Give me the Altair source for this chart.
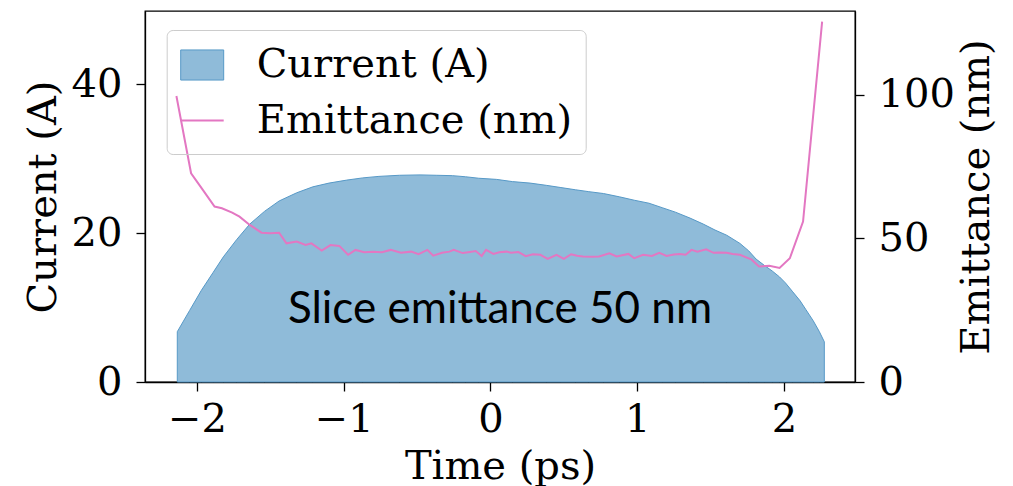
import altair as alt
import pandas as pd

# ---- data ----
series_names = ["Current (A)", "Emittance (nm)"]

time_current = [-2.134, -2.05, -1.97, -1.89, -1.82, -1.73, -1.64, -1.54, -1.44, -1.32,
                -1.21, -1.10, -0.98, -0.87, -0.76, -0.62, -0.48, -0.37, -0.26, -0.17,
                -0.08, 0.04, 0.15, 0.27, 0.38, 0.48, 0.58, 0.67, 0.77, 0.88,
                0.98, 1.08, 1.17, 1.26, 1.36, 1.45, 1.53, 1.61, 1.70, 1.76,
                1.81, 1.87, 1.92, 1.97, 2.01, 2.06, 2.11, 2.15, 2.20, 2.24, 2.275]
current = [6.75, 9.6, 12.3, 14.7, 16.8, 19.1, 21.2, 22.9, 24.3, 25.4,
           26.2, 26.7, 27.1, 27.4, 27.6, 27.75, 27.8, 27.75, 27.7, 27.55,
           27.35, 27.2, 26.9, 26.7, 26.4, 26.1, 25.8, 25.55, 25.3, 24.85,
           24.4, 24.0, 23.4, 22.8, 22.0, 21.2, 20.4, 19.7, 18.6, 17.6,
           16.5, 15.6, 14.9, 14.1, 13.3, 12.1, 10.9, 9.7, 8.2, 6.8, 5.4]

time_emit = [-2.14, -2.04, -1.96, -1.88, -1.83, -1.76, -1.71, -1.64, -1.56, -1.50,
             -1.44, -1.39, -1.32, -1.26, -1.22, -1.15, -1.09, -1.03, -0.97, -0.92,
             -0.86, -0.80, -0.74, -0.68, -0.61, -0.54, -0.49, -0.43, -0.39, -0.33,
             -0.28, -0.25, -0.19, -0.14, -0.10, -0.06, -0.03, 0.02, 0.06, 0.11,
             0.14, 0.19, 0.24, 0.29, 0.34, 0.39, 0.45, 0.50, 0.55, 0.59,
             0.63, 0.69, 0.74, 0.81, 0.86, 0.94, 0.98, 1.04, 1.10, 1.15,
             1.20, 1.25, 1.29, 1.33, 1.37, 1.41, 1.47, 1.52, 1.56, 1.61,
             1.65, 1.70, 1.78, 1.83, 1.90, 1.97, 2.04, 2.13, 2.26]
emittance = [99.6, 72.7, 66.9, 61.1, 60.5, 59.0, 57.6, 54.7, 52.0, 51.8,
             52.0, 48.3, 48.9, 47.7, 48.3, 45.8, 47.7, 47.4, 44.3, 46.0,
             45.2, 45.4, 45.2, 46.0, 45.0, 45.4, 44.5, 46.0, 44.0, 45.0,
             45.4, 46.0, 44.9, 45.3, 45.6, 43.9, 46.0, 44.6, 45.2, 45.4,
             45.0, 45.3, 43.8, 44.5, 44.3, 42.9, 44.3, 42.9, 44.5, 44.0,
             43.7, 43.6, 43.7, 44.8, 43.7, 44.6, 43.1, 44.3, 43.9, 45.0,
             43.9, 44.4, 44.6, 44.3, 46.0, 45.4, 46.2, 45.0, 45.1, 45.0,
             44.6, 44.3, 42.6, 40.2, 40.5, 39.7, 43.1, 55.9, 125.5]

annotation_text = ["Slice emittance 50 nm"]
annotation_time = [0.065]
annotation_current = [7.9]

x_ticks = [-2, -1, 0, 1, 2]
current_ticks = [0, 20, 40]
emit_ticks = [0, 50, 100]

df_cur = pd.DataFrame({"t": time_current, "I": current})
df_emi = pd.DataFrame({"t": time_emit, "E": emittance})
df_txt = pd.DataFrame({"t": annotation_time, "I": annotation_current, "label": annotation_text})
df_leg = pd.DataFrame({"series": series_names, "t": [0.0, 0.0]})

FILL = "#8fbbd9"
EDGE = "#5799c7"
PINK = "#e377c2"
SERIF = "DejaVu Serif"

x_scale = alt.Scale(domain=[-2.354, 2.484], nice=False, zero=False)
cur_scale = alt.Scale(domain=[0, 49.8], nice=False)
emi_scale = alt.Scale(domain=[0, 129.2], nice=False)

legend = alt.Legend(
    title=None, orient="none", legendX=21.7, legendY=19,
    padding=13, rowPadding=13, labelOffset=32,
    labelFont=SERIF, labelFontSize=40, labelColor="black", labelLimit=600,
    strokeColor="#cccccc", cornerRadius=6,
    symbolSize=1849, symbolOpacity=1,
)

x_enc = alt.X("t:Q", scale=x_scale,
              axis=alt.Axis(title="Time (ps)", values=x_ticks, format="d",
                            labelBaseline="alphabetic", labelPadding=40,
                            titleBaseline="alphabetic", titleY=96))

area = alt.Chart(df_cur).mark_area(color=FILL, stroke=EDGE, strokeWidth=1, opacity=1).encode(
    x=x_enc,
    y=alt.Y("I:Q", scale=cur_scale, stack=None,
            axis=alt.Axis(title="Current (A)", orient="left", values=current_ticks,
                          labelPadding=14, titleAngle=270, titleX=-102, titleY=185.5,
                          titleBaseline="middle")),
)

text = alt.Chart(df_txt).mark_text(font="Lato", fontSize=44, align="center",
                                   baseline="alphabetic", color="black").encode(
    x=alt.X("t:Q", scale=x_scale),
    y=alt.Y("I:Q", scale=cur_scale, axis=None),
    text="label:N",
)

line = alt.Chart(df_emi).mark_line(color=PINK, strokeWidth=2).encode(
    x=alt.X("t:Q", scale=x_scale),
    y=alt.Y("E:Q", scale=emi_scale,
            axis=alt.Axis(title="Emittance (nm)", orient="right", values=emit_ticks,
                          labelPadding=14, titleAngle=270, titleX=121, titleY=185.5,
                          titleBaseline="middle")),
)

# invisible points that only carry the legend (filled patch + line entry)
legend_layer = alt.Chart(df_leg).mark_point(size=0, opacity=1, filled=True).encode(
    x=alt.X("t:Q", scale=x_scale),
    fill=alt.Fill("series:N", scale=alt.Scale(domain=series_names, range=[FILL, "transparent"]), legend=legend),
    stroke=alt.Stroke("series:N", scale=alt.Scale(domain=series_names, range=[EDGE, PINK]), legend=legend),
    shape=alt.Shape("series:N", scale=alt.Scale(domain=series_names, range=["M-1,-0.7H1V0.7H-1Z", "stroke"]), legend=legend),
    strokeWidth=alt.StrokeWidth("series:N", scale=alt.Scale(domain=series_names, range=[1, 2]), legend=legend),
)

chart = alt.layer(area, text, line, legend_layer).resolve_scale(y="independent").properties(
    width=710, height=371,
    padding={"left": 145, "top": 11, "right": 158, "bottom": 104},
    autosize=alt.AutoSizeParams(type="none"),
    background="white",
).configure_view(
    stroke="black", strokeWidth=1.3
).configure_axis(
    grid=False,
    labelFont=SERIF, labelFontSize=40, labelColor="black",
    titleFont=SERIF, titleFontSize=40, titleFontWeight="normal", titleColor="black",
    tickColor="black", tickSize=9, tickWidth=1.3,
    domainColor="black", domainWidth=1.3,
)

chart.save("out.html", embed_options={"renderer": "svg", "actions": False})
